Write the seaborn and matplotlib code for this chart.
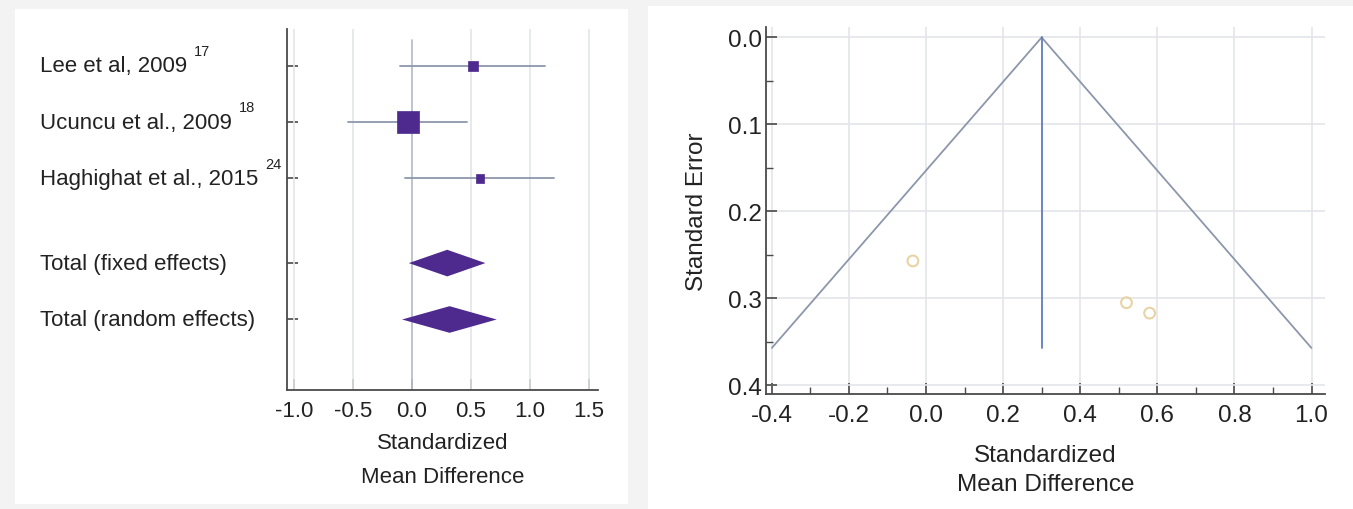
import numpy as np
import pandas as pd
import matplotlib
matplotlib.use("Agg")
import matplotlib.pyplot as plt
import matplotlib.patches as mpatches
import matplotlib.transforms as mtrans
import seaborn as sns

# ---------------- data ----------------
studies = ["Lee et al, 2009", "Ucuncu et al., 2009", "Haghighat et al., 2015"]
refs = ["17", "18", "24"]
smd = [0.52, -0.034, 0.58]
ci_low = [-0.097, -0.54, -0.06]
ci_high = [1.13, 0.47, 1.21]
weights = [16, 73, 11]          # relative weight (%) -> square area
se = [0.305, 0.257, 0.317]

pooled_labels = ["Total (fixed effects)", "Total (random effects)"]
pooled_est = [0.30, 0.32]
pooled_low = [-0.026, -0.083]
pooled_high = [0.624, 0.72]

forest_xticks = [-1.0, -0.5, 0.0, 0.5, 1.0, 1.5]
funnel_xticks = [-0.4, -0.2, 0.0, 0.2, 0.4, 0.6, 0.8, 1.0]
funnel_yticks = [0.0, 0.1, 0.2, 0.3, 0.4]
funnel_center = 0.30
funnel_se_max = 0.357

# ---------------- style ----------------
sns.set_theme(style="white")
plt.rcParams['font.family'] = ['Liberation Sans', 'DejaVu Sans']

PURPLE = "#4e2a8e"
LINE = "#8c97ab"
GRID = "#e3e5ea"
SPINE = "#4a4a4a"
TXT = "#222222"
FS_L = 16
FS_R = 17.5

fig = plt.figure(figsize=(13.53, 5.10), dpi=100)
fig.patch.set_facecolor("#f3f3f3")
W, H = 1353, 510
# white cards
fig.add_artist(mpatches.Rectangle((15 / W, 1 - 505 / H), (628 - 15) / W, (505 - 10) / H,
                                  transform=fig.transFigure, facecolor="white", edgecolor="none", zorder=0))
fig.add_artist(mpatches.Rectangle((648 / W, 0), (W - 648) / W, 1 - 7 / H,
                                  transform=fig.transFigure, facecolor="white", edgecolor="none", zorder=0))

# ---------------- forest plot ----------------
axL = fig.add_axes([287 / W, 1 - 391 / H, (598 - 287) / W, (391 - 30) / H])
axL.set_facecolor("none")
row_study = [1, 2, 3]
row_pool = [4.5, 5.5]

df = pd.DataFrame({"study": studies, "smd": smd, "row": row_study, "w": weights})
for r, lo, hi in zip(row_study, ci_low, ci_high):
    axL.plot([lo, hi], [r, r], color=LINE, lw=1.3, zorder=2)
sns.scatterplot(data=df, x="smd", y="row", size="w", sizes=(36, 243), size_norm=(11, 73),
                marker="s", color=PURPLE, edgecolor=PURPLE, linewidth=0.5,
                legend=False, ax=axL, zorder=3)

dh = 0.236
for r, est, lo, hi in zip(row_pool, pooled_est, pooled_low, pooled_high):
    axL.fill([lo, est, hi, est], [r, r - dh, r, r + dh], color=PURPLE, zorder=3, lw=0)

axL.set_xlim(-1.06, 1.58)
axL.set_ylim(6.75, 0.35)
axL.set_xticks(forest_xticks)
axL.set_xticklabels([f"{v:.1f}" for v in forest_xticks])
axL.set_yticks(row_study + row_pool)
axL.set_yticklabels([])
for v in forest_xticks:
    if v == 0:
        axL.plot([v, v], [0.55, 6.75], color="#b9bfcc", lw=1.3, zorder=1)
    else:
        axL.axvline(v, color=GRID, lw=1.2, zorder=1)
for s in ["top", "right"]:
    axL.spines[s].set_visible(False)
for s in ["left", "bottom"]:
    axL.spines[s].set_color(SPINE)
    axL.spines[s].set_linewidth(1.3)
axL.tick_params(axis="both", direction="in", length=8, width=1.2, color=SPINE,
                labelsize=FS_L, labelcolor=TXT, pad=7, left=True, bottom=True)
axL.set_xlabel("Standardized\nMean Difference", fontsize=FS_L, color=TXT, labelpad=8,
               linespacing=1.85)
axL.set_ylabel("")

blend = mtrans.blended_transform_factory(fig.transFigure, axL.transData)
label_x = 40 / W
for lab, r, ref in zip(studies, row_study, refs):
    t = axL.text(label_x, r, lab, transform=blend, ha="left", va="center",
                 fontsize=FS_L, color=TXT)
    axL.annotate(ref, xy=(1, 1), xycoords=t, xytext=(5, 3), textcoords="offset points",
                 ha="left", va="center", fontsize=10.5, color=TXT)
for lab, r in zip(pooled_labels, row_pool):
    axL.text(label_x, r, lab, transform=blend, ha="left", va="center",
             fontsize=FS_L, color=TXT)

# ---------------- funnel plot ----------------
axR = fig.add_axes([766 / W, 1 - 395 / H, (1325 - 766) / W, (395 - 28) / H])
axR.set_facecolor("none")
se_line = [0.0, funnel_se_max]
half = [1.96 * s for s in se_line]
axR.plot([funnel_center - half[1], funnel_center, funnel_center + half[1]],
         [funnel_se_max, 0.0, funnel_se_max], color=LINE, lw=1.3, zorder=2)
axR.plot([funnel_center, funnel_center], se_line, color="#5f7db8", lw=1.3, zorder=2)

dfp = pd.DataFrame({"smd": smd, "se": se})
sns.scatterplot(data=dfp, x="smd", y="se", marker="o", s=60, facecolor="none",
                edgecolor="#e8d3a4", linewidth=1.5, legend=False, ax=axR, zorder=3)

axR.set_xlim(-0.415, 1.035)
axR.set_ylim(0.41, -0.012)
axR.set_xticks(funnel_xticks)
axR.set_xticklabels([f"{v:.1f}" for v in funnel_xticks])
axR.set_yticks(funnel_yticks)
axR.set_yticklabels([f"{v:.1f}" for v in funnel_yticks])
axR.set_xticks(np.arange(-0.3, 1.0, 0.2), minor=True)
axR.set_yticks(np.arange(0.05, 0.4, 0.1), minor=True)
axR.grid(True, which="major", color=GRID, lw=1.2, zorder=1)
for s in ["top", "right"]:
    axR.spines[s].set_visible(False)
for s in ["left", "bottom"]:
    axR.spines[s].set_color(SPINE)
    axR.spines[s].set_linewidth(1.3)
axR.tick_params(axis="both", which="major", direction="in", length=8, width=1.2, color=SPINE,
                labelsize=FS_R, labelcolor=TXT, left=True, bottom=True)
axR.tick_params(axis="x", which="major", pad=7)
axR.tick_params(axis="y", which="major", pad=3)
axR.tick_params(axis="both", which="minor", direction="in", length=5, width=1.0, color=SPINE,
                left=True, bottom=True)
axR.set_xlabel("Standardized\nMean Difference", fontsize=FS_R, color=TXT, labelpad=13,
               linespacing=1.4)
axR.set_ylabel("Standard Error", fontsize=FS_R, color=TXT, labelpad=14)

fig.savefig("out.png", dpi=100, facecolor=fig.get_facecolor())
